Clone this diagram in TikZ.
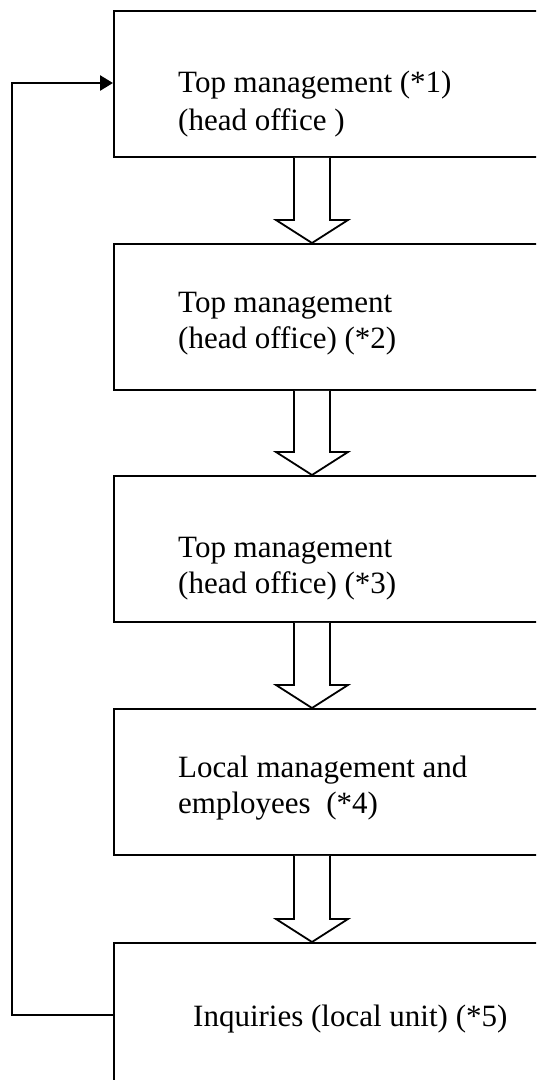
\documentclass[tikz,border=0pt]{standalone}
\usepackage{fontspec}
\setmainfont{Liberation Serif}
\usetikzlibrary{arrows.meta,calc}

\tikzset{
  stage/.style={draw=black, line width=1.8pt, rectangle, inner sep=0pt,
                minimum width=427pt, minimum height=146pt, anchor=north west},
  label/.style={inner sep=0pt, anchor=base west,
                font=\fontsize{31}{36}\selectfont},
  blockarrow/.style={draw=black, fill=white, line width=1.8pt, line join=miter},
  feedback/.style={draw=black, line width=1.8pt},
  feedbackhead/.style={draw=black, line width=2.6pt,
                -{Triangle[length=13pt,width=15pt]}}
}

\begin{document}
\begin{tikzpicture}[x=1pt,y=-1pt]
  \useasboundingbox (0,0) rectangle (536,1080);
  \clip (0,0) rectangle (536,1080);

  % process stages
  \node[stage] (b1) at (113,10)  {};
  \node[stage] (b2) at (113,243) {};
  \node[stage] (b3) at (113,475) {};
  \node[stage] (b4) at (113,708) {};
  \node[stage] (b5) at (113,942) {};

  % stage texts
  \node[label] (t1a) at (178,92)   {Top management (*1)};
  \node[label] (t1b) at (178,130)  {(head office )};
  \node[label] (t2a) at (178,312)  {Top management};
  \node[label] (t2b) at (178,348)  {(head office) (*2)};
  \node[label] (t3a) at (178,557)  {Top management};
  \node[label] (t3b) at (178,593)  {(head office) (*3)};
  \node[label] (t4a) at (178,777)  {Local management and};
  \node[label] (t4b) at (178,813)  {employees\ \ (*4)};
  \node[label] (t5)  at (193,1026) {Inquiries (local unit) (*5)};

  % hollow block arrows between consecutive stages
  \foreach \a/\b in {b1/b2, b2/b3, b3/b4, b4/b5} {
    \draw[blockarrow]
      ($(\a.south west)+(181,0)$) --
      ($(\b.north west)+(181,-23)$) --
      ($(\b.north west)+(163,-23)$) --
      ($(\b.north west)+(199,0)$) --
      ($(\b.north west)+(235,-23)$) --
      ($(\b.north west)+(217,-23)$) --
      ($(\a.south west)+(217,0)$);
  }

  % feedback loop from inquiries back to top management
  \coordinate (fstart) at ($(b5.north west)+(0,73)$);
  \coordinate (fend)   at ($(b1.north west)+(0,73)$);
  \coordinate (cbot)   at (12,0 |- fstart);
  \coordinate (ctop)   at (12,0 |- fend);
  \draw[feedback] (fstart) -- (cbot) -- (ctop);
  \draw[feedbackhead] ($(ctop)+(-0.9,0)$) -- (fend);
\end{tikzpicture}
\end{document}
